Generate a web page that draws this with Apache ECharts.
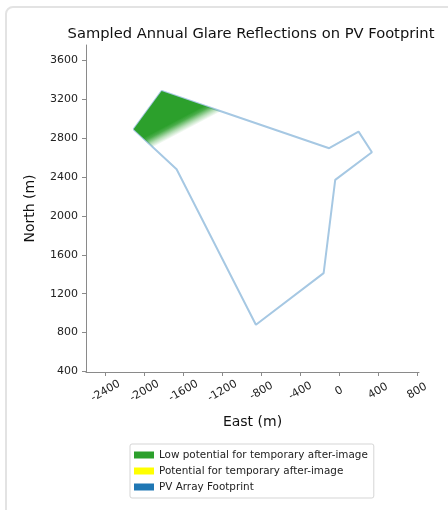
<!DOCTYPE html>
<html>
<head>
<meta charset="utf-8">
<script src="https://cdn.jsdelivr.net/npm/echarts@6/dist/echarts.min.js"></script>
<style>
  html, body { margin: 0; padding: 0; background: #fff; }
  #card { position: absolute; left: 5px; top: 6px; width: 460px; height: 520px;
          border: 2px solid #e3e3e3; border-radius: 8px; box-sizing: border-box; }
  #chart { position: absolute; left: 0; top: 0; width: 448px; height: 510px; }
</style>
</head>
<body>
<div id="card"></div>
<div id="chart"></div>
<script>
// PV array footprint outline (closed)
const footprintEast  = [-2113, -1825, -103, 199, 336, -41, -160, -856, -1671, -2113];
const footprintNorth = [ 2891,  3285, 2696, 2867, 2655, 2370, 1411, 880, 2480, 2891];
// Region of sampled glare reflections (low potential for temporary after-image)
const glareEast  = [-2113, -1825, -1210, -1912];
const glareNorth = [ 2891,  3285,  3075,  2705];
// Tick labels
const xTicks = [-2400, -2000, -1600, -1200, -800, -400, 0, 400, 800];
const yTicks = [400, 800, 1200, 1600, 2000, 2400, 2800, 3200, 3600];
const seriesNames = ['Low potential for temporary after-image', 'Potential for temporary after-image', 'PV Array Footprint'];
const seriesColors = ['#2ca02c', '#ffff00', '#1f77b4'];

const chart = echarts.init(document.getElementById('chart'), null, { renderer: 'canvas' });
const font = 'DejaVu Sans';
const axisColor = '#8a8a8a';

const footprintData = footprintEast.map((e, i) => [e, footprintNorth[i]]);
const glareData = glareEast.map((e, i) => [e, glareNorth[i]]);

chart.setOption({
  animation: false,
  title: {
    text: 'Sampled Annual Glare Reflections on PV Footprint',
    left: 246, top: 22, textAlign: 'center',
    textStyle: { fontFamily: font, fontSize: 14.7, fontWeight: 'normal', color: '#111' }
  },
  grid: { left: 86, right: 29, top: 45, bottom: 138 },
  xAxis: {
    type: 'value', min: -2602, max: 820,
    name: 'East (m)', nameLocation: 'middle', nameGap: 43,
    nameTextStyle: { fontFamily: font, fontSize: 14, color: '#111' },
    axisLine: { show: true, onZero: false, lineStyle: { color: axisColor, width: 1 } },
    axisTick: { show: true, length: 4, customValues: xTicks, lineStyle: { color: axisColor } },
    axisLabel: { customValues: xTicks, rotate: 30, align: 'center', verticalAlign: 'middle', margin: 19,
                 formatter: v => String(v),
                 fontFamily: font, fontSize: 11, color: '#222' },
    splitLine: { show: false }
  },
  yAxis: {
    type: 'value', min: 394, max: 3758,
    name: 'North (m)', nameLocation: 'middle', nameGap: 49, nameRotate: 90,
    nameTextStyle: { fontFamily: font, fontSize: 14, color: '#111' },
    axisLine: { show: true, onZero: false, lineStyle: { color: axisColor, width: 1 } },
    axisTick: { show: true, length: 4, customValues: yTicks, lineStyle: { color: axisColor } },
    axisLabel: { customValues: yTicks, margin: 8, formatter: v => String(v),
                 fontFamily: font, fontSize: 11, color: '#222' },
    splitLine: { show: false }
  },
  legend: {
    orient: 'vertical', left: 130, top: 444,
    icon: 'rect', itemWidth: 20, itemHeight: 7, itemGap: 6,
    padding: [6, 6, 6, 4],
    borderColor: '#d5d5d5', borderWidth: 1, borderRadius: 2,
    backgroundColor: '#fff',
    itemStyle: { borderWidth: 0 },
    textStyle: { fontFamily: font, fontSize: 10.4, color: '#222' },
    data: seriesNames.map((n, i) => ({ name: n, itemStyle: { color: seriesColors[i] } }))
  },
  series: [
    {
      name: seriesNames[0], type: 'custom', z: 3,
      itemStyle: { color: seriesColors[0] },
      renderItem: function (params, api) {
        if (params.dataIndex !== 0) return null;
        const pts = glareData.map(d => api.coord(d));
        const A = pts[2], B = pts[3];
        const mx = (A[0] + B[0]) / 2, my = (A[1] + B[1]) / 2;
        let dx = B[0] - A[0], dy = B[1] - A[1];
        const len = Math.hypot(dx, dy);
        let nx = dy / len, ny = -dx / len;
        const T = pts[1];
        if ((T[0] - mx) * nx + (T[1] - my) * ny < 0) { nx = -nx; ny = -ny; }
        const L = 13;
        return {
          type: 'polygon',
          shape: { points: pts },
          style: {
            fill: {
              type: 'linear', global: true,
              x: mx, y: my, x2: mx + nx * L, y2: my + ny * L,
              colorStops: [
                { offset: 0, color: 'rgba(44,160,44,0)' },
                { offset: 0.35, color: 'rgba(44,160,44,0.35)' },
                { offset: 0.75, color: 'rgba(44,160,44,0.85)' },
                { offset: 1, color: 'rgba(44,160,44,1)' }
              ]
            }
          }
        };
      },
      data: glareData
    },
    {
      name: seriesNames[1], type: 'custom', z: 3,
      itemStyle: { color: seriesColors[1] },
      renderItem: function () { return null; },
      data: []
    },
    {
      name: seriesNames[2], type: 'line', z: 2,
      data: footprintData,
      showSymbol: false, symbol: 'none',
      itemStyle: { color: seriesColors[2] },
      lineStyle: { color: '#a6c8e3', width: 2 }
    }
  ]
});
</script>
</body>
</html>
